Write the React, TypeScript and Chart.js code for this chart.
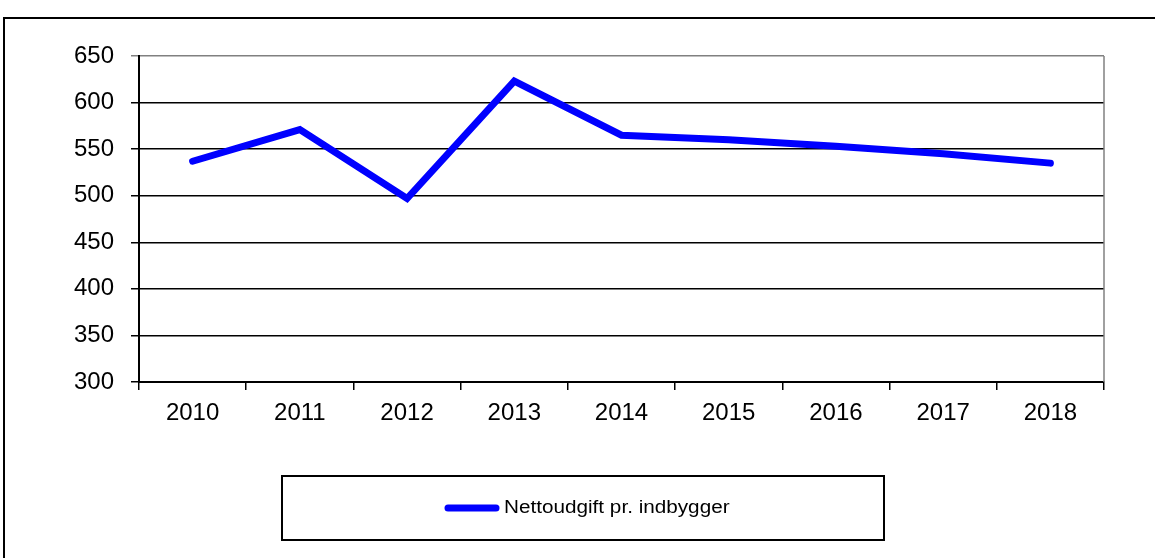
import React, { useEffect, useRef } from "react";
import { Chart, registerables } from "chart.js";

Chart.register(...registerables);

const categories = ["2010", "2011", "2012", "2013", "2014", "2015", "2016", "2017", "2018"];
const seriesLabel = "Nettoudgift pr. indbygger";
const seriesValues = [537, 571, 497, 623, 565, 560, 553, 545, 535];
const yMin = 300;
const yMax = 650;
const yStep = 50;

const FONT = '"Liberation Sans", Arial, sans-serif';

const framePlugin = {
  id: "framePlugin",
  beforeDatasetsDraw(chart: any) {
    const { ctx, chartArea } = chart;
    ctx.save();
    ctx.strokeStyle = "#808080";
    ctx.lineWidth = 1.5;
    ctx.beginPath();
    ctx.moveTo(chartArea.right, chartArea.top);
    ctx.lineTo(chartArea.right, chartArea.bottom);
    ctx.stroke();
    ctx.restore();
  },
  afterDraw(chart: any) {
    const { ctx } = chart;
    ctx.save();
    // outer frame
    ctx.strokeStyle = "#000";
    ctx.lineWidth = 2;
    ctx.strokeRect(4, 18, 1400, 800);
    // legend box
    const bx = 282, by = 476, bw = 602, bh = 64;
    ctx.fillStyle = "#fff";
    ctx.fillRect(bx, by, bw, bh);
    ctx.strokeRect(bx, by, bw, bh);
    const ds = chart.data.datasets[0];
    const cy = 508;
    ctx.strokeStyle = ds.borderColor;
    ctx.lineWidth = 7;
    ctx.lineCap = "round";
    ctx.beginPath();
    ctx.moveTo(448, cy);
    ctx.lineTo(496, cy);
    ctx.stroke();
    ctx.fillStyle = "#000";
    ctx.font = `18px ${FONT}`;
    ctx.textBaseline = "middle";
    ctx.textAlign = "left";
    ctx.translate(504, cy);
    ctx.scale(1.15, 1);
    ctx.fillText(ds.label, 0, 0);
    ctx.restore();
  },
};

export default function App() {
  const ref = useRef<HTMLCanvasElement | null>(null);
  useEffect(() => {
    if (!ref.current) return;
    const chart = new Chart(ref.current, {
      type: "line",
      data: {
        labels: categories,
        datasets: [
          {
            label: seriesLabel,
            data: seriesValues,
            borderColor: "#0000FF",
            backgroundColor: "#0000FF",
            borderWidth: 7,
            pointRadius: 0,
            tension: 0,
            borderCapStyle: "round",
            borderJoinStyle: "miter",
            fill: false,
          },
        ],
      },
      options: {
        responsive: false,
        maintainAspectRatio: false,
        animation: false,
        layout: { padding: { top: 56, right: 51, left: 0, bottom: 0 } },
        plugins: { legend: { display: false }, tooltip: { enabled: false }, title: { display: false } },
        scales: {
          x: {
            type: "category",
            offset: true,
            grid: {
              offset: true,
              drawOnChartArea: false,
              drawTicks: true,
              tickLength: 8,
              color: "#000",
              lineWidth: 1.5,
            },
            border: { color: "#000", width: 2 },
            ticks: {
              color: "#000",
              font: { family: FONT, size: 24 },
              padding: 9,
              maxRotation: 0,
              autoSkip: false,
            },
            afterFit: (s: any) => {
              s.height = 176;
            },
          },
          y: {
            min: yMin,
            max: yMax,
            ticks: {
              stepSize: yStep,
              color: "#000",
              font: { family: FONT, size: 24 },
              padding: 17,
            },
            grid: {
              color: (c: any) => (c.tick && c.tick.value === yMax ? "#808080" : "#000"),
              lineWidth: 1.5,
              tickLength: 8,
            },
            border: { color: "#000", width: 2 },
            afterFit: (s: any) => {
              s.width = 139;
            },
          },
        },
      },
      plugins: [framePlugin],
    } as any);
    return () => chart.destroy();
  }, []);
  return (
    <div style={{ position: "fixed", left: 0, top: 0, width: 1155, height: 558, background: "#fff" }}>
      <canvas ref={ref} width={1155} height={558} style={{ width: 1155, height: 558, display: "block" }} />
    </div>
  );
}
